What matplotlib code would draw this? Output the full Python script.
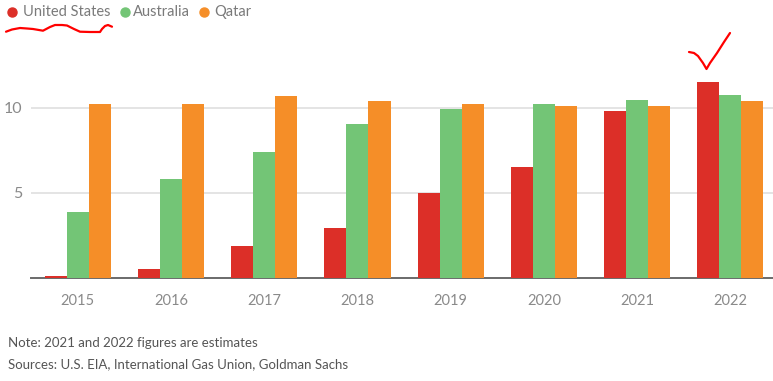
import matplotlib
matplotlib.use("Agg")
import matplotlib.pyplot as plt
from matplotlib.lines import Line2D
import numpy as np

years = ["2015", "2016", "2017", "2018", "2019", "2020", "2021", "2022"]
united_states = [0.12, 0.53, 1.91, 2.97, 4.98, 6.52, 9.79, 11.49]
australia = [3.87, 5.80, 7.40, 9.03, 9.90, 10.20, 10.47, 10.73]
qatar = [10.20, 10.20, 10.70, 10.40, 10.20, 10.10, 10.10, 10.40]
series_names = ["United States", "Australia", "Qatar"]
yticks = [5, 10]
note = "Note: 2021 and 2022 figures are estimates"
source = "Sources: U.S. EIA, International Gas Union, Goldman Sachs"

colors = ["#dc2f28", "#73c576", "#f58e28"]
plt.rcParams["font.family"] = ["Lato", "DejaVu Sans"]

W, H = 773, 381
fig = plt.figure(figsize=(W / 100, H / 100), dpi=100)

def fx(px):
    return px / W

def fy(py):
    return 1 - py / H

base_px, top_px, left_px = 278.3, 60.0, 30.7
ppu = 17.06
ax = fig.add_axes([fx(left_px), fy(base_px), 1 - fx(left_px), (base_px - top_px) / H])

x = np.arange(len(years))
w = 0.237
for j, (vals, c) in enumerate(zip([united_states, australia, qatar], colors)):
    ax.bar(x + (j - 1) * w, vals, width=w, color=c, zorder=3, linewidth=0)

ax.set_xlim(-0.506, 7.459)
ax.set_ylim(0, (base_px - top_px) / ppu)
ax.set_yticks(yticks)
ax.set_xticks(x)
ax.set_xticklabels(years)
ax.grid(axis="y", color="#e2e2e2", linewidth=1.3, zorder=0)
for s in ["top", "right", "left"]:
    ax.spines[s].set_visible(False)
ax.spines["bottom"].set_color("#6a6a6a")
ax.spines["bottom"].set_linewidth(1.4)
ax.spines["bottom"].set_zorder(2)
ax.tick_params(axis="both", length=0, labelcolor="#8a8a8a", labelsize=10.5)
ax.tick_params(axis="x", pad=11)
ax.tick_params(axis="y", pad=6)
for lbl in ax.get_yticklabels():
    lbl.set_fontsize(11.5)

# Legend (manual)
leg_y = fy(12)
items = [(12, 22.7), (125, 133), (204, 214)]
for (dot_x, text_x), name, c in zip(items, series_names, colors):
    fig.add_artist(Line2D([fx(dot_x)], [leg_y], marker="o", markersize=6.5,
                          color=c, linestyle="none", transform=fig.transFigure))
    fig.text(fx(text_x), leg_y, name, color="#7a7a7a", fontsize=10.5, va="center", ha="left")

# Footnotes
fig.text(fx(8), fy(343), note, color="#555555", fontsize=9.5, va="center", ha="left")
fig.text(fx(8), fy(364), source, color="#555555", fontsize=9.5, va="center", ha="left")

# Hand-drawn red annotations
ux = [6, 12, 20, 27, 33, 43, 50, 55, 62, 67, 74, 80, 90, 100, 102, 105, 108, 112]
uy = [31.7, 29.5, 28, 28.5, 29, 30.7, 27, 25, 25, 25.5, 29, 31.7, 32, 32, 29, 26, 25, 26.7]
fig.add_artist(Line2D([fx(v) for v in ux], [fy(v) for v in uy], color="#ff0000",
                      linewidth=1.6, transform=fig.transFigure, solid_capstyle="round"))
cx = [689, 694, 698, 703, 706.5, 710, 717, 724, 730]
cy = [52, 53, 56, 63, 69, 63, 53, 42, 33]
fig.add_artist(Line2D([fx(v) for v in cx], [fy(v) for v in cy], color="#ff0000",
                      linewidth=1.6, transform=fig.transFigure, solid_capstyle="round",
                      solid_joinstyle="round"))

fig.savefig("out.png", dpi=100)
